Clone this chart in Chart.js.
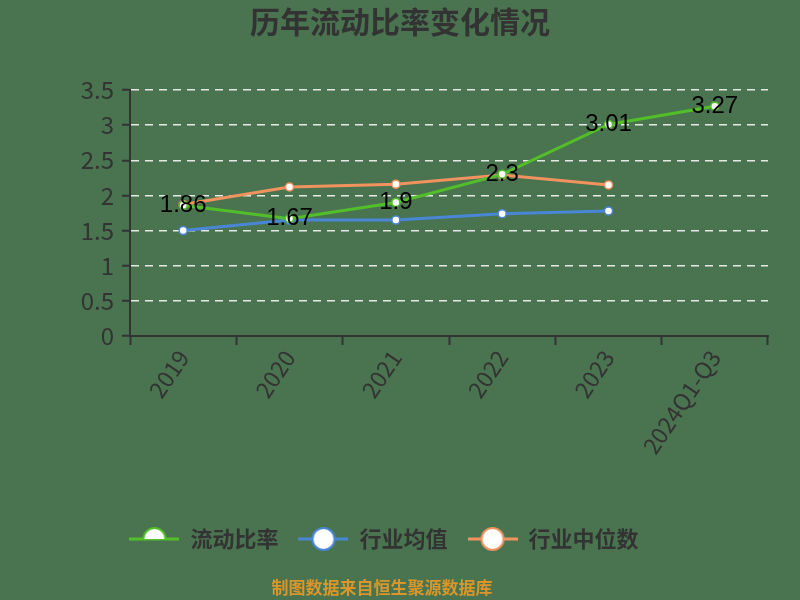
<!DOCTYPE html>
<html>
<head>
<meta charset="utf-8">
<script src="https://cdn.jsdelivr.net/npm/chart.js@4"></script>
<style>
  html, body { margin: 0; padding: 0; background: #4a7450; }
  #wrap { width: 800px; height: 600px; }
</style>
</head>
<body>
<div id="wrap"><canvas id="chart" width="800" height="600"></canvas></div>
<script>
const years = ['2019', '2020', '2021', '2022', '2023', '2024Q1-Q3'];
const currentRatio = [1.86, 1.67, 1.9, 2.3, 3.01, 3.27];
const industryAvg = [1.5, 1.65, 1.65, 1.74, 1.78, null];
const industryMedian = [1.87, 2.12, 2.16, 2.29, 2.15, null];
const yTicks = ['0', '0.5', '1', '1.5', '2', '2.5', '3', '3.5'];

const GREEN = '#52bf2a';
const BLUE = '#4a86d6';
const ORANGE = '#f0935f';
const TEXT = '#333333';
const CJK = '"Noto Sans CJK SC", "Noto Sans", sans-serif';

// small legend icon: line with a hollow circle on it
function legendIcon(color, half) {
  const c = document.createElement('canvas');
  c.width = 50; c.height = 28;
  const g = c.getContext('2d');
  g.strokeStyle = color;
  g.lineWidth = 3;
  g.beginPath(); g.moveTo(0, 14); g.lineTo(50, 14); g.stroke();
  g.beginPath();
  if (half) g.arc(25, 14, 11, Math.PI, 0); else g.arc(25, 14, 11, 0, Math.PI * 2);
  g.fillStyle = '#ffffff';
  g.fill();
  g.lineWidth = 2;
  g.stroke();
  return c;
}

const valueLabels = {
  id: 'valueLabels',
  afterDatasetsDraw(chart) {
    const ctx = chart.ctx;
    const meta = chart.getDatasetMeta(0);
    ctx.save();
    ctx.font = '24px "Liberation Sans", Arial, sans-serif';
    ctx.fillStyle = '#000000';
    ctx.textAlign = 'center';
    ctx.textBaseline = 'middle';
    meta.data.forEach((pt, i) => {
      ctx.fillText(String(currentRatio[i]), pt.x, pt.y);
    });
    ctx.restore();
  }
};

// title centred on the full canvas, footer note under the legend
const texts = {
  id: 'texts',
  afterDraw(chart) {
    const ctx = chart.ctx;
    ctx.save();
    ctx.textAlign = 'center';
    ctx.textBaseline = 'middle';
    ctx.font = 'bold 30px ' + CJK;
    ctx.fillStyle = TEXT;
    ctx.fillText('历年流动比率变化情况', 400, 22);
    ctx.font = 'bold 17px ' + CJK;
    ctx.fillStyle = '#d9962b';
    ctx.fillText('制图数据来自恒生聚源数据库', 382, 588);
    ctx.restore();
  }
};

function lineSet(label, data, color) {
  return {
    label: label,
    data: data,
    borderColor: color,
    backgroundColor: '#ffffff',
    borderWidth: 3,
    pointRadius: 4,
    pointBorderWidth: 1.5,
    pointBorderColor: color,
    pointBackgroundColor: '#ffffff',
    tension: 0,
    fill: false
  };
}

const icons = [legendIcon(GREEN, true), legendIcon(BLUE, false), legendIcon(ORANGE, false)];

new Chart(document.getElementById('chart'), {
  type: 'line',
  data: {
    labels: years,
    datasets: [
      lineSet('流动比率', currentRatio, GREEN),
      lineSet('行业均值', industryAvg, BLUE),
      lineSet('行业中位数', industryMedian, ORANGE)
    ]
  },
  options: {
    responsive: false,
    animation: false,
    layout: { padding: { left: 0, right: 32, top: 90, bottom: 40 } },
    plugins: {
      title: { display: false },
      legend: {
        position: 'bottom',
        labels: {
          usePointStyle: true,
          pointStyleWidth: 50,
          boxHeight: 22,
          padding: 20,
          color: TEXT,
          font: { family: CJK, size: 22, weight: 'bold' },
          generateLabels(chart) {
            return chart.data.datasets.map((ds, i) => ({
              text: ds.label,
              pointStyle: icons[i],
              fillStyle: '#ffffff',
              strokeStyle: ds.borderColor,
              lineWidth: 0,
              fontColor: TEXT,
              datasetIndex: i,
              hidden: false
            }));
          }
        }
      },
      tooltip: { enabled: false }
    },
    scales: {
      x: {
        offset: true,
        grid: { offset: true, drawOnChartArea: false, drawTicks: true, tickLength: 9, tickColor: '#333333', tickWidth: 2 },
        border: { color: '#333333', width: 2 },
        ticks: { color: TEXT, font: { family: CJK, size: 23 }, minRotation: 56, maxRotation: 56, padding: 0, autoSkip: false },
        afterFit(scale) { scale.height = 172; }
      },
      y: {
        min: 0,
        max: 3.5,
        grid: { color: 'rgba(255,255,255,0.85)', lineWidth: 1.5, drawTicks: true, tickLength: 8, tickColor: '#333333', tickWidth: 2 },
        border: { color: '#333333', width: 2, dash: [8, 6] },
        ticks: {
          stepSize: 0.5,
          color: TEXT,
          padding: 8,
          font: { family: CJK, size: 24 },
          callback: (v) => yTicks[Math.round(v * 2)]
        },
        afterFit(scale) { scale.width = 130; }
      }
    }
  },
  plugins: [valueLabels, texts]
});
</script>
</body>
</html>
